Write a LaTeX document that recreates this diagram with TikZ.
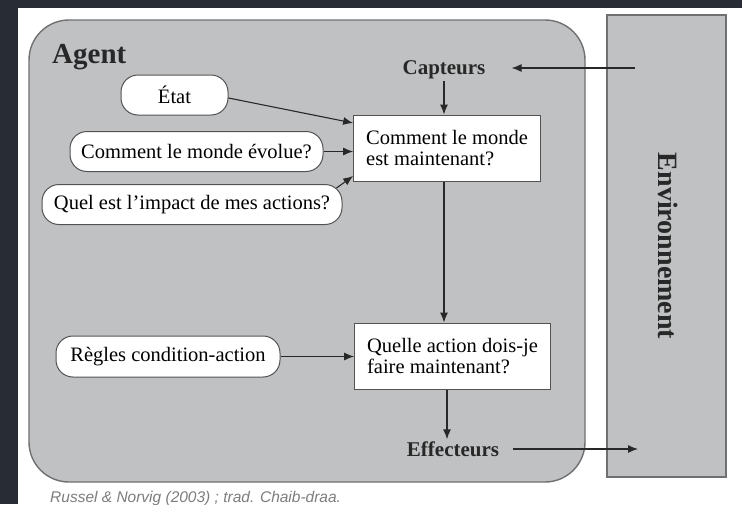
\documentclass[tikz,border=0pt]{standalone}
\usepackage{fontspec}
\setmainfont{Liberation Serif}
\setsansfont{Liberation Sans}
\usetikzlibrary{arrows.meta}

\definecolor{frame}{RGB}{40,44,52}
\definecolor{panel}{RGB}{192,193,195}
\definecolor{rim}{RGB}{112,112,114}
\definecolor{ink}{RGB}{40,40,40}
\definecolor{note}{RGB}{125,125,125}

\tikzset{
  panelbox/.style={fill=panel, draw=rim, line width=1.4pt},
  statebox/.style={draw=ink!80, fill=white, line width=1pt, inner xsep=12.5pt,
    align=left, font=\fontsize{20.5}{21.5}\selectfont},
  memo/.style={draw=ink!80, fill=white, line width=1pt, rounded corners=17pt,
    minimum height=40pt, inner sep=0pt, font=\fontsize{20.5}{24}\selectfont},
  port/.style={font=\fontsize{21}{24}\selectfont\bfseries, inner sep=2pt},
  arr/.style={draw=ink, line width=1.1pt, -{Latex[length=10pt,width=8pt]}},
}

\begin{document}
\begin{tikzpicture}[x=1pt,y=-1pt]
  \useasboundingbox (0,0) rectangle (742,504);
  % page frame
  \fill[frame] (0,0) rectangle (742,504);
  \fill[white] (18,8) rectangle (742,504);

  % agent and environment panels
  \draw[panelbox, rounded corners=40pt] (29,20) rectangle (585,482);
  \node[panelbox, line width=1.2pt, minimum width=119pt, minimum height=462pt,
        inner sep=0pt] (env) at (666.5,246) {};
  \node[rotate=-90, font=\fontsize{28}{30}\selectfont\bfseries, text=ink]
        (envlabel) at (668,246) {Environnement};

  \node[anchor=base west, font=\fontsize{29}{32}\selectfont\bfseries, text=ink,
        inner sep=0pt] (agent) at (52,63) {Agent};

  % sensors and effectors
  \node[port, text=ink] (capt) at (444,70) {Capteurs};
  \node[port, text=ink] (eff) at (453,449) {Effecteurs};
  \coordinate (envin) at (635,68);
  \coordinate (envout) at (638,449);

  % internal state boxes
  \node[statebox, minimum height=66pt] (now) at (447,148)
        {Comment le monde\\est maintenant?};
  \node[statebox, minimum height=66pt] (act) at (452.5,356)
        {Quelle action dois-je\\faire maintenant?};

  % knowledge items
  \node[memo, minimum width=107pt] (etat) at (174.5,95) {État};
  \node[memo, minimum width=253pt] (evol) at (196.5,151.5) {Comment le monde évolue?};
  \node[memo, minimum width=300pt] (impact) at (192,204.5) {Quel est l’impact de mes actions?};
  \node[memo, minimum width=224pt, minimum height=41pt] (rules) at (168,356.5) {Règles condition-action};

  % connectors
  \draw[arr] (envin) -- ([xshift=24pt]capt.east |- envin);
  \draw[arr] (capt.south) -- (capt.south |- now.north);
  \draw[arr] ([yshift=-3pt]etat.east) -- ([yshift=25pt]now.west);
  \draw[arr] (evol.east) -- (evol.east -| now.west);
  \draw[arr] ([xshift=-6pt,yshift=-4pt]impact.north east) -- ([yshift=-28pt]now.west);
  \draw[arr] (capt |- now.south) -- (capt |- act.north);
  \draw[arr] (rules.east) -- (rules.east -| act.west);
  \draw[arr] ([xshift=3pt]capt |- act.south) -- ([xshift=3pt]capt |- eff.north);
  \draw[arr] ([xshift=12pt]eff.east) -- (envout);

  % source note
  \node[anchor=base west, inner sep=0pt, text=note,
        font=\sffamily\itshape\fontsize{15.5}{18}\selectfont] (src) at (50,502)
        {Russel \& Norvig (2003) ; trad. Chaib-draa.};
\end{tikzpicture}
\end{document}
